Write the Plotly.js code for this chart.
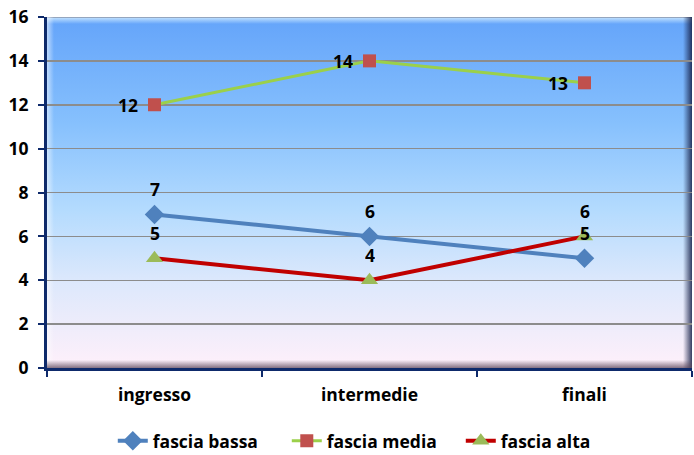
<!DOCTYPE html>
<html>
<head>
<meta charset="utf-8">
<script src="https://cdn.plot.ly/plotly-3.0.1.min.js"></script>
<style>html,body{margin:0;padding:0;background:#fff;} #chart{width:694px;height:455px;}</style>
</head>
<body>
<div id="chart"></div>
<script>
var categories = ["ingresso", "intermedie", "finali"];
var fasciaBassa = [7, 6, 5];
var fasciaMedia = [12, 14, 13];
var fasciaAlta = [5, 4, 6];
var seriesNames = ["fascia bassa", "fascia media", "fascia alta"];
var yTicks = [0, 2, 4, 6, 8, 10, 12, 14, 16];

var L = 47, R = 2, T = 17, B = 87;
var W = 694, H = 455;
var pw = W - L - R, ph = H - T - B;

// background gradient with bevel, drawn in canvas
var cv = document.createElement('canvas');
cv.width = pw; cv.height = ph;
var ctx = cv.getContext('2d');
var g = ctx.createLinearGradient(0, 0, 0, ph);
g.addColorStop(0, '#64A4FA');
g.addColorStop(0.3, '#86C0FD');
g.addColorStop(0.55, '#B4DBFE');
g.addColorStop(0.75, '#DCE8FC');
g.addColorStop(1, '#FFF0FA');
ctx.fillStyle = g;
ctx.fillRect(0, 0, pw, ph);
var gt = ctx.createLinearGradient(0, 0, 0, 7);
gt.addColorStop(0, 'rgba(130,130,140,0.9)');
gt.addColorStop(0.2, 'rgba(200,230,255,0.8)');
gt.addColorStop(1, 'rgba(200,230,255,0)');
ctx.fillStyle = gt; ctx.fillRect(0, 0, pw, 7);
var gl = ctx.createLinearGradient(0, 0, 7, 0);
gl.addColorStop(0, 'rgba(255,255,255,0.55)');
gl.addColorStop(1, 'rgba(255,255,255,0)');
ctx.fillStyle = gl; ctx.fillRect(0, 0, 7, ph);
var gr = ctx.createLinearGradient(pw - 9, 0, pw, 0);
gr.addColorStop(0, 'rgba(20,30,70,0)');
gr.addColorStop(1, 'rgba(20,30,70,0.85)');
ctx.fillStyle = gr; ctx.fillRect(pw - 9, 0, 9, ph);
var gb = ctx.createLinearGradient(0, ph - 8, 0, ph);
gb.addColorStop(0, 'rgba(90,70,90,0)');
gb.addColorStop(1, 'rgba(90,70,90,0.75)');
ctx.fillStyle = gb; ctx.fillRect(0, ph - 8, pw, 8);
var bgURL = cv.toDataURL('image/png');

var fontFam = '"Open Sans", "Liberation Sans", sans-serif';
var fs = 17.5;
var navy = '#0E2A6B';

var traces = [
  {x: categories, y: fasciaBassa, name: seriesNames[0], type: 'scatter', mode: 'lines+markers',
   line: {color: '#4F81BD', width: 4}, marker: {symbol: 'diamond', size: 15, color: '#4F81BD'}},
  {x: categories, y: fasciaMedia, name: seriesNames[1], type: 'scatter', mode: 'lines+markers',
   line: {color: '#9BD04A', width: 3}, marker: {symbol: 'square', size: 13, color: '#C0504D'}},
  {x: categories, y: fasciaAlta, name: seriesNames[2], type: 'scatter', mode: 'lines+markers',
   line: {color: '#C00000', width: 4}, marker: {symbol: 'triangle-up', size: 15, color: '#9BBB59'}}
];

var annotations = [];
function addLabels(vals, xs, ys) {
  for (var i = 0; i < vals.length; i++) {
    annotations.push({x: categories[i], y: vals[i], xref: 'x', yref: 'y', text: String(vals[i]),
      showarrow: false, xshift: xs, yshift: ys, height: 18, borderpad: 0,
      font: {family: fontFam, size: fs, color: '#000', weight: 'bold'}});
  }
}
addLabels(fasciaBassa, 0, 25);
addLabels(fasciaMedia, -27, 0);
addLabels(fasciaAlta, 0, 25);

var layout = {
  width: W, height: H,
  margin: {l: L, r: R, t: T, b: B, pad: 0, autoexpand: false},
  paper_bgcolor: '#fff',
  plot_bgcolor: 'rgba(0,0,0,0)',
  font: {family: fontFam, size: fs, color: '#000', weight: 'bold'},
  showlegend: true,
  legend: {orientation: 'h', x: 0.102, xanchor: 'left', xref: 'paper', y: 0.031, yref: 'container', yanchor: 'middle',
    font: {family: fontFam, size: fs, color: '#000', weight: 'bold'}, itemwidth: 30, tracegroupgap: 0,
    entrywidth: 129, entrywidthmode: 'pixels',
    bgcolor: 'rgba(0,0,0,0)'},
  xaxis: {type: 'category', range: [-0.5, 2.5], showgrid: false, zeroline: false,
    showline: true, linecolor: navy, linewidth: 3, mirror: false,
    ticks: 'outside', tickson: 'boundaries', ticklen: 6, tickwidth: 2, tickcolor: navy,
    ticklabelstandoff: 9,
    tickfont: {family: fontFam, size: fs, color: '#000', weight: 'bold'}, fixedrange: true},
  yaxis: {range: [0, 16], tickvals: yTicks, ticktext: yTicks.map(String), showgrid: true,
    gridcolor: '#8C8C8C', gridwidth: 1.5, zeroline: false,
    showline: true, linecolor: navy, linewidth: 3,
    ticks: 'outside', ticklen: 6, tickwidth: 2, tickcolor: navy, ticklabelstandoff: 6,
    tickfont: {family: fontFam, size: fs, color: '#000', weight: 'bold'}, fixedrange: true},
  images: [{source: bgURL, xref: 'paper', yref: 'paper', x: 0, y: 1, sizex: 1, sizey: 1,
    sizing: 'stretch', xanchor: 'left', yanchor: 'top', layer: 'below'}],
  annotations: annotations
};

Plotly.newPlot('chart', traces, layout, {displayModeBar: false, staticPlot: true});
</script>
</body>
</html>
